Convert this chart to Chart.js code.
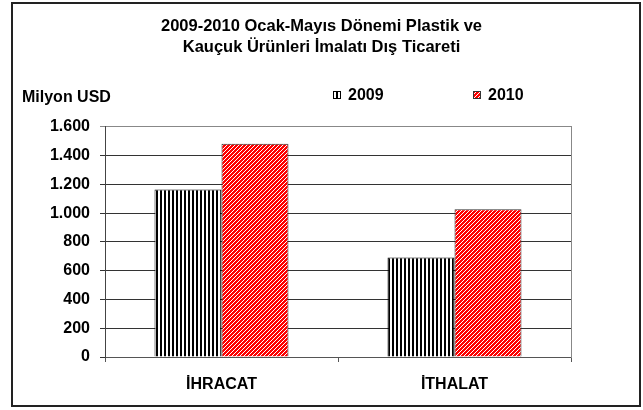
<!DOCTYPE html>
<html>
<head>
<meta charset="utf-8">
<script src="https://cdn.jsdelivr.net/npm/chart.js@4"></script>
<style>
    html, body { margin: 0; padding: 0; background: #fff; }
    #wrap { width: 643px; height: 410px; position: relative; }
</style>
</head>
<body>
<div id="wrap"><canvas id="tradeChart" width="643" height="410"></canvas></div>
<script>
// Chart data
const categories = ['İHRACAT', 'İTHALAT'];
const seriesNames = ['2009', '2010'];
const values2009 = [1165, 691];
const values2010 = [1483, 1028];
const titleLines = ['2009-2010 Ocak-Mayıs Dönemi Plastik ve', 'Kauçuk Ürünleri İmalatı Dış Ticareti'];
const unitLabel = 'Milyon USD';

const FONT = '"Liberation Sans", Arial, sans-serif';

// Vertical black/white stripes for 2009
function makeStripePattern() {
    const c = document.createElement('canvas');
    c.width = 4;
    c.height = 4;
    const g = c.getContext('2d');
    g.fillStyle = '#fff';
    g.fillRect(0, 0, 4, 4);
    g.fillStyle = '#000';
    g.fillRect(0, 0, 2, 4);
    return g.createPattern(c, 'repeat');
}

// Red with white diagonal lines for 2010
function makeDiagonalPattern() {
    const c = document.createElement('canvas');
    c.width = 4;
    c.height = 4;
    const g = c.getContext('2d');
    g.fillStyle = '#ff0000';
    g.fillRect(0, 0, 4, 4);
    g.fillStyle = '#ffffff';
    for (let y = 0; y < 4; y++) {
        g.fillRect(3 - y, y, 1, 1);
    }
    return g.createPattern(c, 'repeat');
}

const pattern2009 = makeStripePattern();
const pattern2010 = makeDiagonalPattern();

function formatThousands(v) {
    return String(v).replace(/\B(?=(\d{3})+(?!\d))/g, '.');
}

// Frame, unit label and legend drawn on top
const decorPlugin = {
    id: 'decor',
    afterDraw(chart) {
        const ctx = chart.ctx;
        ctx.save();

        // outer frame
        ctx.strokeStyle = '#222';
        ctx.lineWidth = 2;
        ctx.strokeRect(12, 3, 628, 403);

        ctx.fillStyle = '#000';
        ctx.font = 'bold 16px ' + FONT;
        ctx.textBaseline = 'middle';
        ctx.textAlign = 'left';
        ctx.fillText(unitLabel, 22, 98);

        // legend
        const items = [
            { x: 333, fill: pattern2009, border: '#000' },
            { x: 473, fill: pattern2010, border: '#333' }
        ];
        items.forEach((it, i) => {
            ctx.fillStyle = it.fill;
            ctx.fillRect(it.x, 91, 8, 8);
            ctx.strokeStyle = it.border;
            ctx.lineWidth = 1;
            ctx.strokeRect(it.x + 0.5, 91.5, 7, 7);
            ctx.fillStyle = '#000';
            ctx.fillText(seriesNames[i], it.x + 15, 96);
        });
        ctx.restore();
    }
};

const chart = new Chart(document.getElementById('tradeChart'), {
    type: 'bar',
    data: {
        labels: categories,
        datasets: [
            {
                label: seriesNames[0],
                data: values2009,
                backgroundColor: pattern2009,
                borderColor: '#000',
                borderWidth: 1
            },
            {
                label: seriesNames[1],
                data: values2010,
                backgroundColor: pattern2010,
                borderColor: '#333',
                borderWidth: 1
            }
        ]
    },
    options: {
        responsive: false,
        animation: false,
        devicePixelRatio: 1,
        categoryPercentage: 0.575,
        barPercentage: 1.0,
        layout: {
            padding: 0
        },
        plugins: {
            legend: { display: false },
            tooltip: { enabled: false },
            title: {
                display: true,
                text: titleLines,
                color: '#000',
                font: { family: FONT, size: 16.5, weight: 'bold', lineHeight: 1.33 },
                padding: { top: 15, bottom: 68 }
            }
        },
        scales: {
            x: {
                offset: true,
                grid: {
                    display: true,
                    offset: true,
                    drawOnChartArea: false,
                    drawTicks: true,
                    tickLength: 5,
                    color: '#555'
                },
                border: { color: '#555', width: 1 },
                ticks: {
                    color: '#000',
                    padding: 13,
                    font: { family: FONT, size: 16, weight: 'bold' }
                },
                afterFit(scale) {
                    scale.height = 53;
                }
            },
            y: {
                min: 0,
                max: 1600,
                ticks: {
                    stepSize: 200,
                    color: '#000',
                    padding: 10,
                    font: { family: FONT, size: 16, weight: 'bold' },
                    callback: function(value) {
                        return formatThousands(value);
                    }
                },
                grid: {
                    color: (ctx) => ctx.tick && ctx.tick.value === 1600 ? '#888' : '#333',
                    lineWidth: 1,
                    tickLength: 5
                },
                border: { color: '#444', width: 1 },
                afterFit(scale) {
                    scale.width = 105;
                }
            },
            // empty right-hand strip; its border is the plot's right edge
            yRight: {
                position: 'right',
                display: true,
                min: 0,
                max: 1600,
                ticks: { display: false },
                grid: { display: false, drawTicks: false },
                border: { display: true, color: '#888', width: 1 },
                afterFit(scale) {
                    scale.width = 72;
                }
            }
        }
    },
    plugins: [decorPlugin]
});
</script>
</body>
</html>
